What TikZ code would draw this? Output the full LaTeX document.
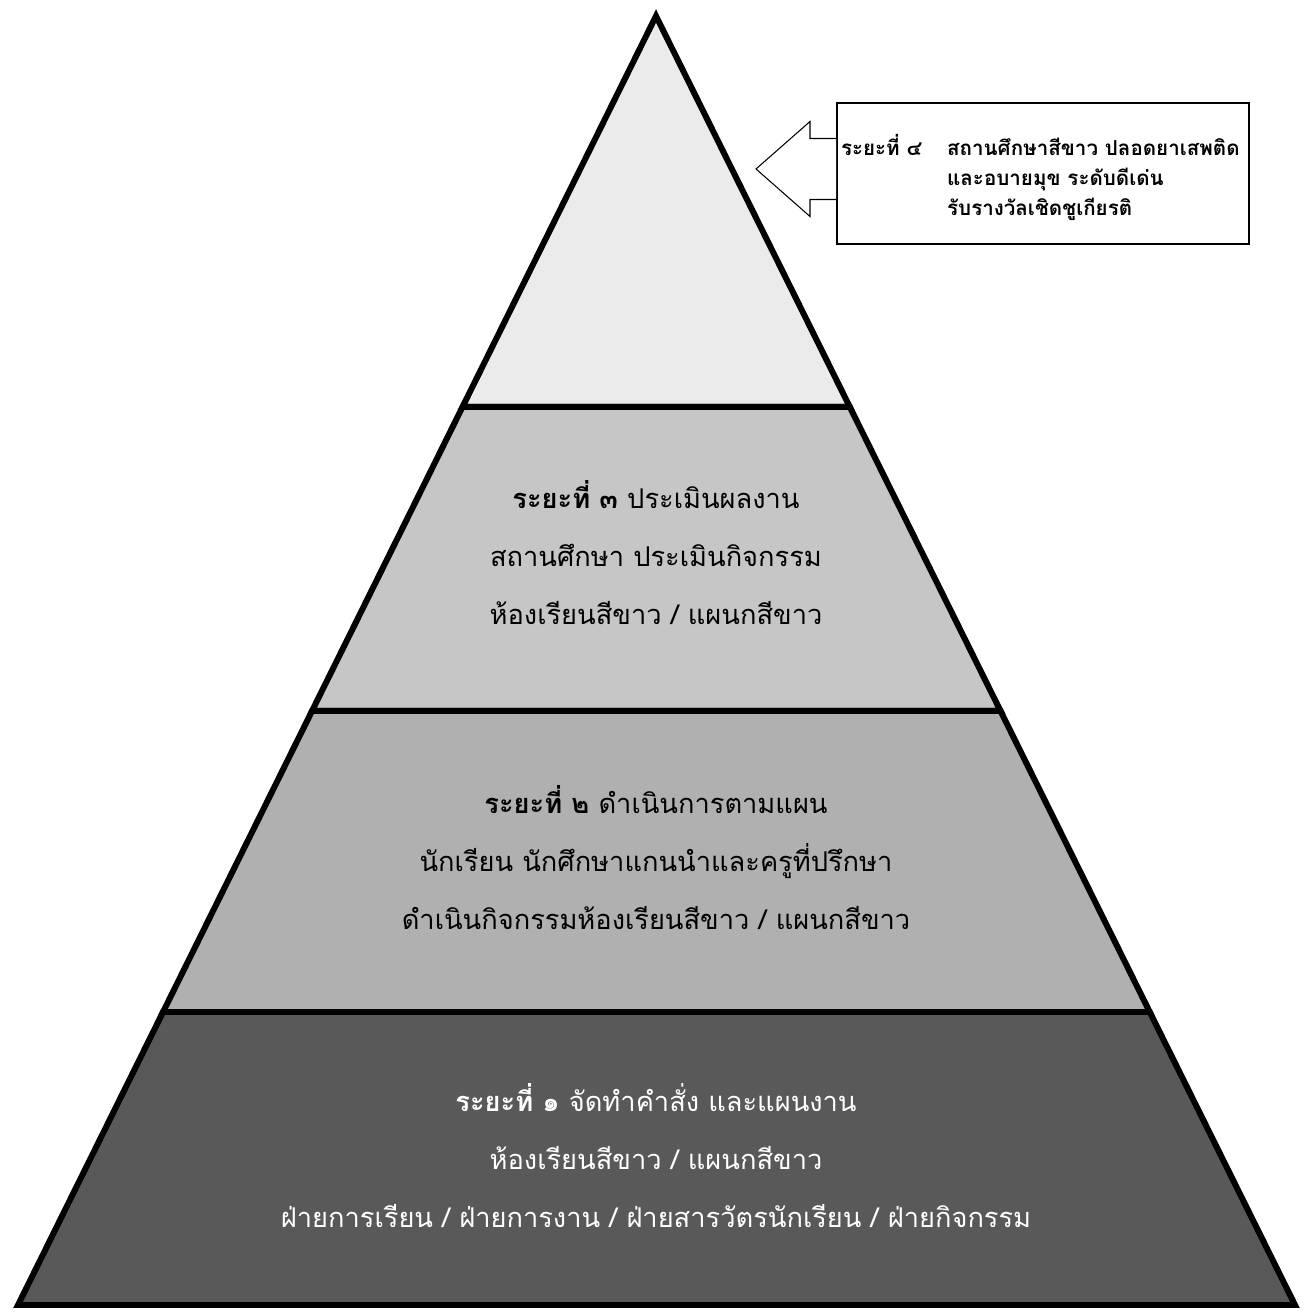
\documentclass[tikz,border=0pt]{standalone}
\usepackage{fontspec}
\newfontfamily\thaifont[Script=Thai]{Loma}
\usetikzlibrary{calc}

\definecolor{layerfour}{HTML}{EBEBEB}
\definecolor{layerthree}{HTML}{C6C6C6}
\definecolor{layertwo}{HTML}{B0B0B0}
\definecolor{layerone}{HTML}{595959}

\tikzset{
  layer/.style={draw=black, line width=3.4pt, line join=miter},
  lvltext/.style={align=center, font=\thaifont\fontsize{15.5}{33}\selectfont},
  notebox/.style={draw=black, line width=0.9pt, minimum width=8.24cm, minimum height=2.82cm, inner xsep=0.08cm, text width=8.08cm, align=left, font=\thaifont\bfseries\fontsize{11.7}{17}\selectfont},
  pointer/.style={draw=black, line width=0.6pt, fill=white}
}

\begin{document}
\begin{tikzpicture}
\def \xm {13.12}

\def \ya{0.2}
\def \yb{6.06}
\def \yc{12.08}
\def \yd{18.16}
\def \ye{25.98}

\useasboundingbox (0,0) rectangle (26.24,26.3);

\coordinate (apex) at (\xm, \ye);
\coordinate (bl) at (0.36, \ya);
\coordinate (br) at (25.9, \ya);
\coordinate (l1) at ($(apex)!{(\ye-\yb)/(\ye-\ya)}!(bl)$);
\coordinate (r1) at ($(apex)!{(\ye-\yb)/(\ye-\ya)}!(br)$);
\coordinate (l2) at ($(apex)!{(\ye-\yc)/(\ye-\ya)}!(bl)$);
\coordinate (r2) at ($(apex)!{(\ye-\yc)/(\ye-\ya)}!(br)$);
\coordinate (l3) at ($(apex)!{(\ye-\yd)/(\ye-\ya)}!(bl)$);
\coordinate (r3) at ($(apex)!{(\ye-\yd)/(\ye-\ya)}!(br)$);

% layers, top down
\filldraw[layer, fill=layerfour] (apex) -- (l3) -- (r3) -- cycle;
\filldraw[layer, fill=layerthree] (l3) -- (l2) -- (r2) -- (r3) -- cycle;
\filldraw[layer, fill=layertwo] (l2) -- (l1) -- (r1) -- (r2) -- cycle;
\filldraw[layer, fill=layerone] (l1) -- (bl) -- (br) -- (r1) -- cycle;

\node[lvltext] (stepthree) at (\xm, 15.24) {\textbf{ระยะที่ ๓} ประเมินผลงาน\\สถานศึกษา ประเมินกิจกรรม\\ห้องเรียนสีขาว / แผนกสีขาว};
\node[lvltext] (steptwo) at (\xm, 9.15) {\textbf{ระยะที่ ๒} ดำเนินการตามแผน\\นักเรียน นักศึกษาแกนนำและครูที่ปรึกษา\\ดำเนินกิจกรรมห้องเรียนสีขาว / แผนกสีขาว};
\node[lvltext, text=white] (stepone) at (\xm, 3.18) {\textbf{ระยะที่ ๑} จัดทำคำสั่ง และแผนงาน\\ห้องเรียนสีขาว / แผนกสีขาว\\ฝ่ายการเรียน / ฝ่ายการงาน / ฝ่ายสารวัตรนักเรียน / ฝ่ายกิจกรรม};

% note box with arrow
\node[notebox] (stepfour) at (20.86, 22.83) {%
\raisebox{-0.12cm}[\height][\depth]{\begin{tabular}{@{}l@{\hspace{0.5cm}}l@{}}
ระยะที่ ๔ & สถานศึกษาสีขาว ปลอดยาเสพติด\\
 & และอบายมุข ระดับดีเด่น\\
 & รับรางวัลเชิดชูเกียรติ
\end{tabular}}};

\coordinate (tip) at (15.12, 22.92);
\filldraw[pointer] (stepfour.west |- 0,23.53) -- (16.2, 23.53) -- (16.2, 23.87) -- (tip) -- (16.2, 21.97) -- (16.2, 22.31) -- (stepfour.west |- 0,22.31);

\end{tikzpicture}
\end{document}
